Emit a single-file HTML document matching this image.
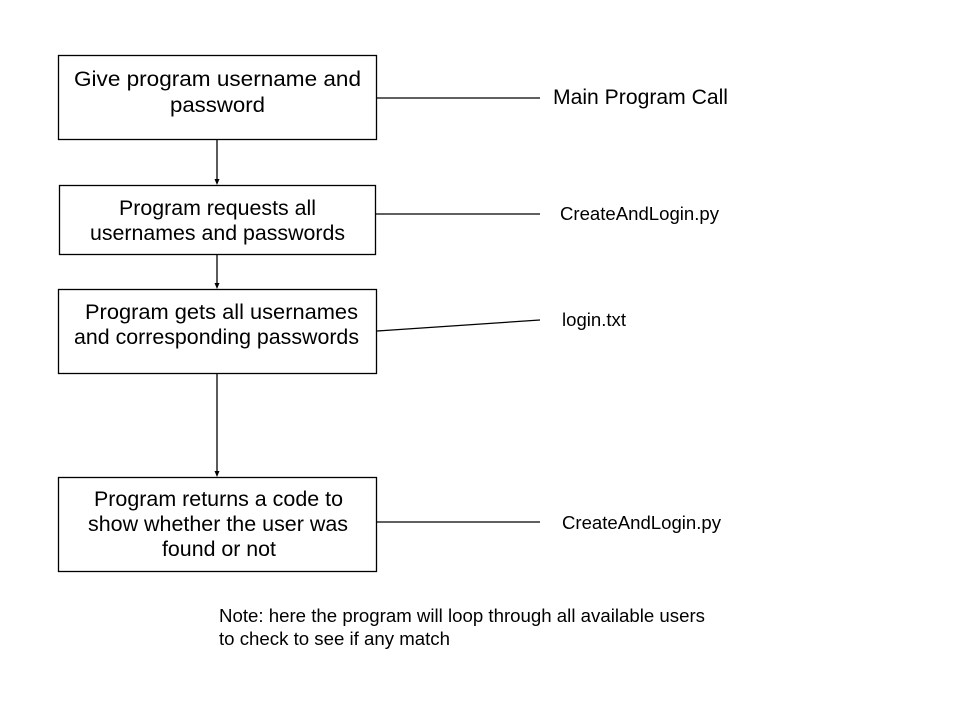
<!DOCTYPE html>
<html><head><meta charset="utf-8"><style>
html,body{margin:0;padding:0;background:#fff;}
svg{display:block;}
text{font-family:"Liberation Sans",Arial,sans-serif;fill:#000;}
</style></head><body>
<svg width="960" height="720" viewBox="0 0 960 720" xmlns="http://www.w3.org/2000/svg">
<g fill="none" stroke="#000" stroke-width="1.3">
<rect x="58.5" y="55.5" width="318" height="84"/>
<rect x="59.5" y="185.5" width="316" height="69"/>
<rect x="58.5" y="289.5" width="318" height="84"/>
<rect x="58.5" y="477.5" width="318" height="94"/>
<line x1="377" y1="98" x2="540" y2="98"/>
<line x1="376" y1="214" x2="540" y2="214"/>
<line x1="377" y1="331" x2="540" y2="320"/>
<line x1="377" y1="522" x2="540" y2="522"/>
<line x1="217" y1="140" x2="217" y2="180"/>
<line x1="217" y1="255" x2="217" y2="284"/>
<line x1="217" y1="374" x2="217" y2="472"/>
</g>
<g fill="#000">
<polygon points="214.5,179 219.5,179 217,185"/>
<polygon points="214.5,283 219.5,283 217,289"/>
<polygon points="214.5,471 219.5,471 217,477"/>
</g>
<g font-size="21" lengthAdjust="spacingAndGlyphs">
<text x="74" y="86" textLength="287" lengthAdjust="spacingAndGlyphs">Give program username and</text>
<text x="170" y="112" textLength="95" lengthAdjust="spacingAndGlyphs">password</text>
<text x="119" y="215" textLength="197" lengthAdjust="spacingAndGlyphs">Program requests all</text>
<text x="90" y="240" textLength="255" lengthAdjust="spacingAndGlyphs">usernames and passwords</text>
<text x="85" y="319" textLength="273" lengthAdjust="spacingAndGlyphs">Program gets all usernames</text>
<text x="74" y="344" textLength="285" lengthAdjust="spacingAndGlyphs">and corresponding passwords</text>
<text x="94" y="506" textLength="249" lengthAdjust="spacingAndGlyphs">Program returns a code to</text>
<text x="88" y="531" textLength="260" lengthAdjust="spacingAndGlyphs">show whether the user was</text>
<text x="162" y="556" textLength="114" lengthAdjust="spacingAndGlyphs">found or not</text>
</g>
<text x="553" y="104" font-size="21" textLength="175" lengthAdjust="spacingAndGlyphs">Main Program Call</text>
<text x="560" y="220" font-size="18" textLength="159" lengthAdjust="spacingAndGlyphs">CreateAndLogin.py</text>
<text x="562" y="326" font-size="18" textLength="64" lengthAdjust="spacingAndGlyphs">login.txt</text>
<text x="562" y="529" font-size="18" textLength="159" lengthAdjust="spacingAndGlyphs">CreateAndLogin.py</text>
<text x="219" y="622" font-size="18" textLength="486" lengthAdjust="spacingAndGlyphs">Note: here the program will loop through all available users</text>
<text x="219" y="645" font-size="18" textLength="231" lengthAdjust="spacingAndGlyphs">to check to see if any match</text>
</svg>
</body></html>
